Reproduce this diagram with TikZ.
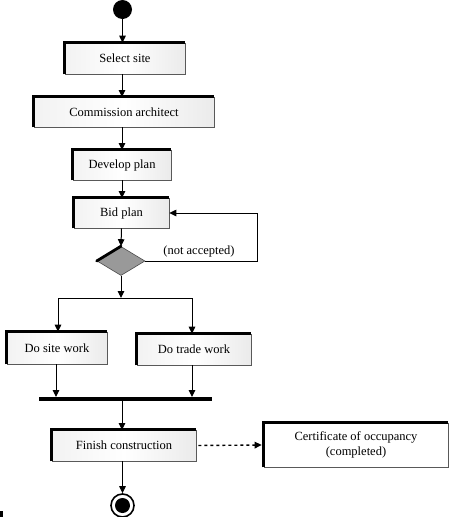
\documentclass[tikz,border=0pt]{standalone}
\usepackage{fontspec}
\setmainfont{Liberation Serif}
\usetikzlibrary{shapes.geometric,arrows.meta}
\begin{document}
\begin{tikzpicture}[x=1pt,y=-1pt,
  every node/.style={font=\fontsize{12.5}{15}\selectfont, inner sep=0pt},
  actbox/.style={rectangle, draw=gray!70!black, line width=0.6pt,
    left color=gray!10, right color=gray!16, middle color=white},
  plainbox/.style={rectangle, draw=gray!70!black, line width=0.6pt, fill=white, align=center},
  edge/.style={draw, line width=1pt},
  arr/.style={edge, -{Triangle[length=7pt,width=6.5pt]}},
  heavy/.style={line width=2.8pt}
]
\useasboundingbox (0,0) rectangle (451,517);
% start
\node[circle, fill=black, minimum size=19pt] (start) at (122.5,9.5) {};
% boxes
\node[actbox, minimum width=120pt, minimum height=31pt] (sel) at (125,58.5) {Select site};
\node[actbox, minimum width=180pt, minimum height=30pt] (com) at (124,112) {Commission architect};
\node[actbox, minimum width=98pt, minimum height=30pt] (dev) at (122,165) {Develop plan};
\node[actbox, minimum width=95pt, minimum height=30pt] (bid) at (121.5,213) {Bid plan};
\node[diamond, draw=gray!60!black, line width=0.6pt, fill=black!40, minimum width=48pt, minimum height=29pt] (dia) at (121,261) {};
\node (na) at (199,251) {(not accepted)};
\node[actbox, minimum width=100pt, minimum height=32pt] (site) at (57,348) {Do site work};
\node[actbox, minimum width=114pt, minimum height=31pt] (trade) at (194,349.5) {Do trade work};
\node[rectangle, fill=black, minimum width=173pt, minimum height=4pt] (bar) at (125.5,399) {};
\node[actbox, minimum width=144pt, minimum height=31pt] (fin) at (124,445.5) {Finish construction};
\node[plainbox, minimum width=184pt, minimum height=44pt] (cert) at (356,445) {Certificate of occupancy\\(completed)};
% end
\node[circle, draw=black, line width=1.6pt, minimum size=23pt] (endo) at (122.5,505.5) {};
\node[circle, fill=black, minimum size=15pt] (endi) at (122.5,505.5) {};
% heavy edges
\foreach \n in {sel,com,dev,bid,site,trade,fin,cert}
  \draw[heavy] (\n.south west) |- (\n.north east);
\draw[heavy, line cap=round] (dia.west) -- (dia.north);
% coordinates
\coordinate (fb) at (257,261);
\coordinate (fl) at (58,298);
\coordinate (fr) at (192,298);
\coordinate (fm) at (121,298);
% connectors
\draw[arr] (start.south) -- (start.south |- sel.north);
\draw[arr] (122,74) -- (122,97);
\draw[arr] (122,127) -- (122,150);
\draw[arr] (122,180) -- (122,198);
\draw[arr] (bid.south) -- (dia.north);
\draw[arr] (dia.east) -- (fb) |- (bid.east);
\draw[arr] (dia.south) -- (fm);
\draw[edge] (fl) -- (fr);
\draw[arr] (fl) -- (fl |- site.north);
\draw[arr] (fr) -- (fr |- trade.north);
\draw[arr] (56,364) -- (56,397);
\draw[arr] (192,365) -- (192,397);
\draw[arr] (122,401) -- (122,430);
\draw[edge, line width=1.4pt, dash pattern=on 3pt off 3pt, -{Triangle[length=7pt,width=6.5pt]}, shorten <=2pt, shorten >=2pt] (fin.east) -- (cert.west);
\draw[arr] (fin.south -| endo.north) -- (endo.north);
% small mark
\fill (0,511) rectangle (3,517);
\end{tikzpicture}
\end{document}
